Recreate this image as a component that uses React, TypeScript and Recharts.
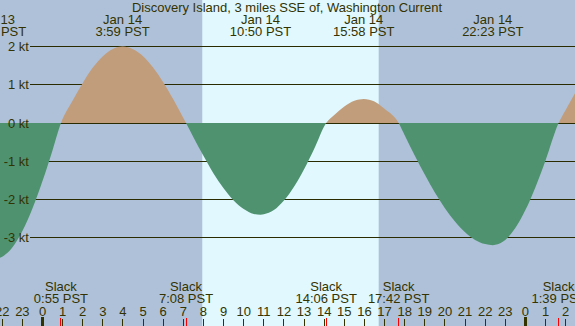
import React from 'react';
import { ComposedChart, Area, XAxis, YAxis, CartesianGrid, ReferenceArea } from 'recharts';

// Time in hours since Jan 14 00:00 PST, current in knots (flood +, ebb -)
const times = [
  -2.112, -2.0, -1.5, -1.0, -0.5, 0, 0.5, 0.917, 1.5, 2.0, 2.5, 3.0, 3.5, 3.983, 4.5, 5.0, 5.5, 6.0, 6.5,
  7.133, 7.5, 8.0, 8.5, 9.0, 9.5, 10.0, 10.5, 10.833, 11.0, 11.5, 12.0, 12.5, 13.0, 13.5, 14.1, 14.5, 15.0,
  15.5, 15.967, 16.5, 17.0, 17.7, 18.0, 18.5, 19.0, 19.5, 20.0, 20.5, 21.0, 21.5, 22.0, 22.383, 22.5, 23.0,
  23.5, 24.0, 24.5, 25.0, 25.65, 26.0, 26.466,
];
const knots = [
  -3.53, -3.5, -3.26, -2.83, -2.24, -1.52, -0.71, 0, 0.59, 1.05, 1.45, 1.75, 1.94, 2.0, 1.93, 1.75, 1.45, 1.07, 0.62,
  0, -0.37, -0.86, -1.32, -1.71, -2.03, -2.25, -2.38, -2.4, -2.39, -2.28, -2.03, -1.67, -1.21, -0.68, 0, 0.21, 0.43,
  0.58, 0.63, 0.56, 0.37, 0, -0.32, -0.85, -1.35, -1.82, -2.23, -2.58, -2.86, -3.06, -3.17, -3.2, -3.19, -3.06,
  -2.75, -2.28, -1.68, -0.98, 0, 0.34, 0.78,
];

const hourTicks = [-2, -1, 0, 1, 2, 3, 4, 5, 6, 7, 8, 9, 10, 11, 12, 13, 14, 15, 16, 17, 18, 19, 20, 21, 22, 23, 24, 25, 26];
const hourLabels = ['22', '23', '0', '1', '2', '3', '4', '5', '6', '7', '8', '9', '10', '11', '12', '13', '14', '15', '16', '17', '18', '19', '20', '21', '22', '23', '0', '1', '2'];

const slackTimes = [0.917, 7.133, 14.1, 17.7, 25.65];
const slackLabels = ['0:55 PST', '7:08 PST', '14:06 PST', '17:42 PST', '1:39 PST'];

const peakTimes = [-2.338, 3.983, 10.833, 15.967, 22.383];
const peakDates = ['Jan 13', 'Jan 14', 'Jan 14', 'Jan 14', 'Jan 14'];
const peakLabels = ['21:40 PST', '3:59 PST', '10:50 PST', '15:58 PST', '22:23 PST'];

const ktTicks = [-3, -2, -1, 0, 1, 2];
const ktLabels = ['-3 kt', '-2 kt', '-1 kt', '0 kt', '1 kt', '2 kt'];

const sunrise = 7.94;
const sunset = 16.71;

const xDomain = [-2.112, 26.466];
const yDomain = [-5.314, 3.22];

const title = 'Discovery Island, 3 miles SSE of, Washington Current';

const data = times.map((t, i) => ({ t, v: knots[i] }));

const FONT = '"Liberation Sans", Arial, Helvetica, sans-serif';
const TEXT = '#333300';
const GRID = '#2b2b00';
const NIGHT = '#afc1d8';
const DAY = '#e0f8fe';
const FLOOD = '#c19d7c';
const EBB = '#4e9270';

const vMax = Math.max(...knots);
const vMin = Math.min(...knots);
const zeroOffset = vMax / (vMax - vMin);

function HourTick(props: any) {
  const { x, payload } = props;
  const i = hourTicks.indexOf(payload.value);
  const label = hourLabels[i];
  const midnight = label === '0';
  return (
    <g>
      <text x={x} y={316} textAnchor="middle" fontSize={13} fontFamily={FONT} fill={TEXT}>
        {label}
      </text>
      <line
        x1={x}
        x2={x}
        y1={midnight ? 317 : 319}
        y2={326}
        stroke={TEXT}
        strokeWidth={midnight ? 3 : 1}
        shapeRendering="crispEdges"
      />
    </g>
  );
}

function SlackTick(props: any) {
  const { x, payload } = props;
  const i = slackTimes.indexOf(payload.value);
  return (
    <g>
      <text x={x} y={291} textAnchor="middle" fontSize={13} fontFamily={FONT} fill={TEXT}>
        Slack
      </text>
      <text x={x} y={303} textAnchor="middle" fontSize={13} fontFamily={FONT} fill={TEXT}>
        {slackLabels[i]}
      </text>
      <line x1={x} x2={x} y1={318} y2={326} stroke="#ff0000" strokeWidth={1} shapeRendering="crispEdges" />
    </g>
  );
}

function PeakTick(props: any) {
  const { x, payload } = props;
  const i = peakTimes.indexOf(payload.value);
  return (
    <g>
      <text x={x} y={24} textAnchor="middle" fontSize={13} fontFamily={FONT} fill={TEXT}>
        {peakDates[i]}
      </text>
      <text x={x} y={36} textAnchor="middle" fontSize={13} fontFamily={FONT} fill={TEXT}>
        {peakLabels[i]}
      </text>
    </g>
  );
}

function KtTick(props: any) {
  const { y, payload } = props;
  const i = ktTicks.indexOf(payload.value);
  return (
    <text x={29} y={y + 4.5} textAnchor="end" fontSize={13} fontFamily={FONT} fill={TEXT}>
      {ktLabels[i]}
    </text>
  );
}

export default function App() {
  return (
    <div style={{ position: 'absolute', left: 0, top: 0, width: 575, height: 326, background: NIGHT, overflow: 'hidden' }}>
      <ComposedChart width={575} height={326} data={data} margin={{ top: 0, right: 0, bottom: 0, left: 0 }}>
        <defs>
          <linearGradient id="flowFill" x1="0" y1="0" x2="0" y2="1">
            <stop offset={zeroOffset} stopColor={FLOOD} />
            <stop offset={zeroOffset} stopColor={EBB} />
          </linearGradient>
        </defs>
        <XAxis
          dataKey="t"
          type="number"
          domain={xDomain}
          allowDataOverflow
          ticks={hourTicks}
          interval={0}
          mirror
          axisLine={false}
          tickLine={false}
          tick={(p: any) => <HourTick {...p} />}
        />
        <XAxis
          xAxisId="slack"
          dataKey="t"
          type="number"
          domain={xDomain}
          allowDataOverflow
          ticks={slackTimes}
          interval={0}
          mirror
          axisLine={false}
          tickLine={false}
          tick={(p: any) => <SlackTick {...p} />}
        />
        <XAxis
          xAxisId="peak"
          orientation="top"
          dataKey="t"
          type="number"
          domain={xDomain}
          allowDataOverflow
          ticks={peakTimes}
          interval={0}
          mirror
          axisLine={false}
          tickLine={false}
          tick={(p: any) => <PeakTick {...p} />}
        />
        <YAxis
          type="number"
          domain={yDomain}
          allowDataOverflow
          ticks={ktTicks}
          interval={0}
          mirror
          axisLine={false}
          tickLine={false}
          tick={(p: any) => <KtTick {...p} />}
        />
        <ReferenceArea x1={sunrise} x2={sunset} fill={DAY} fillOpacity={1} stroke="none" zIndex={-150} />
        <CartesianGrid
          x={30}
          width={545}
          vertical={false}
          horizontalValues={ktTicks}
          stroke={GRID}
          strokeWidth={1}
          shapeRendering="crispEdges"
          zIndex={-100}
        />
        <Area
          dataKey="v"
          type="monotone"
          baseValue={0}
          stroke="none"
          fill="url(#flowFill)"
          fillOpacity={1}
          dot={false}
          activeDot={false}
          isAnimationActive={false}
        />
      </ComposedChart>
      <svg width={575} height={326} style={{ position: 'absolute', left: 0, top: 0, pointerEvents: 'none' }}>
        <text x={287} y={12} textAnchor="middle" fontSize={13} fontFamily={FONT} fill={TEXT}>
          {title}
        </text>
      </svg>
    </div>
  );
}
